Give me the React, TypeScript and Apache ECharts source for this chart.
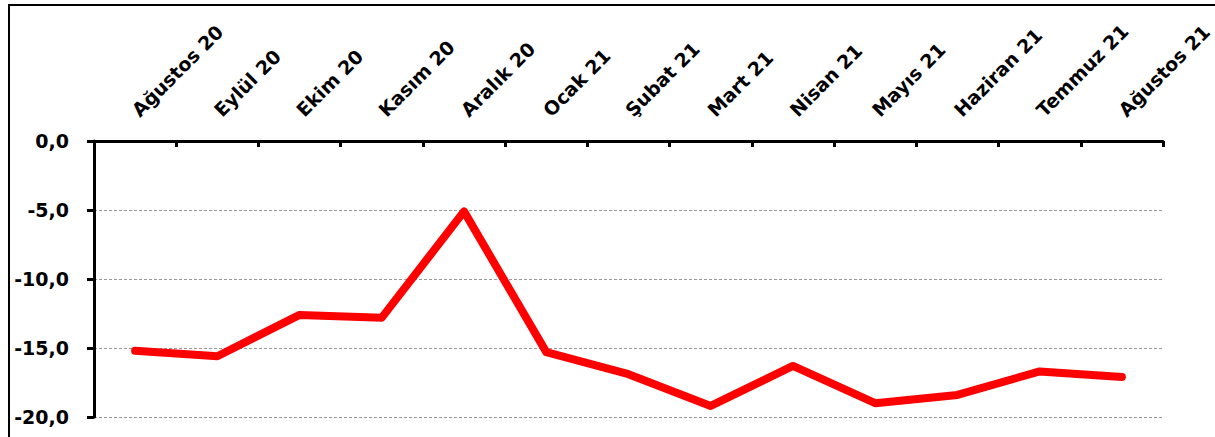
import React, { useEffect, useRef } from "react";
import * as echarts from "echarts";

const categories = [
  "Ağustos 20", "Eylül 20", "Ekim 20", "Kasım 20", "Aralık 20", "Ocak 21",
  "Şubat 21", "Mart 21", "Nisan 21", "Mayıs 21", "Haziran 21", "Temmuz 21", "Ağustos 21",
];
const values = [-15.2, -15.6, -12.6, -12.8, -5.1, -15.3, -16.9, -19.2, -16.3, -19.0, -18.4, -16.7, -17.1];
const yMin = -20;
const yMax = 0;
const yStep = 5;

export default function App() {
  const ref = useRef<HTMLDivElement>(null);
  useEffect(() => {
    if (!ref.current) return;
    const chart = echarts.init(ref.current, null, { renderer: "svg" });
    const font = "'DejaVu Sans', sans-serif";
    chart.setOption({
      animation: false,
      backgroundColor: "#ffffff",
      grid: {
        left: 94,
        right: 52,
        top: 141,
        bottom: 20,
        containLabel: false,
        outerBoundsMode: "none",
      },
      graphic: [
        {
          type: "rect",
          shape: { x: 9, y: 5, width: 1250, height: 500 },
          style: { fill: "none", stroke: "#000", lineWidth: 2 },
          silent: true,
        },
      ],
      xAxis: {
        type: "category",
        position: "top",
        data: categories,
        boundaryGap: true,
        axisLine: { show: true, onZero: false, lineStyle: { color: "#000", width: 3 } },
        axisTick: { show: true, inside: true, length: 6, lineStyle: { color: "#000", width: 3 } },
        axisLabel: {
          rotate: -45,
          margin: 28,
          interval: 0,
          color: "#000",
          fontFamily: font,
          fontWeight: "bold",
          fontSize: 19,
        },
        splitLine: { show: false },
      },
      yAxis: {
        type: "value",
        min: yMin,
        max: yMax,
        interval: yStep,
        axisLine: { show: true, onZero: false, lineStyle: { color: "#000", width: 3 } },
        axisTick: { show: true, inside: false, length: 7, lineStyle: { color: "#000", width: 3 } },
        axisLabel: {
          margin: 25,
          color: "#000",
          fontFamily: font,
          fontWeight: "bold",
          fontSize: 19,
          formatter: (v: number) => v.toFixed(1).replace(".", ","),
        },
        splitLine: {
          show: true,
          lineStyle: { color: "#999", width: 1, type: [3, 2] },
        },
      },
      series: [
        {
          type: "line",
          data: values,
          symbol: "none",
          lineStyle: { color: "#ff0000", width: 8, cap: "round", join: "round" },
          z: 5,
        },
      ],
    });
    return () => chart.dispose();
  }, []);
  return (
    <div
      ref={ref}
      style={{ position: "fixed", left: 0, top: 0, width: 1215, height: 437 }}
    />
  );
}
